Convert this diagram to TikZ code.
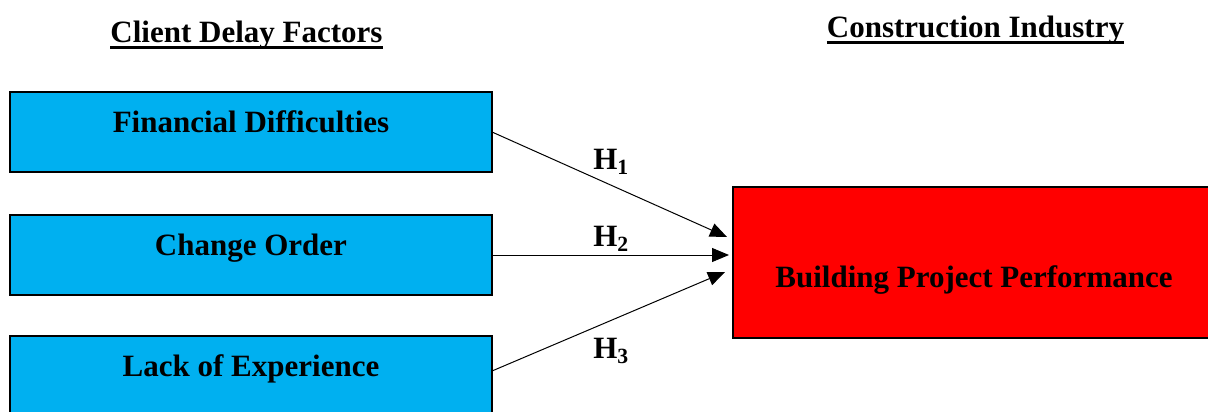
\documentclass[tikz,border=0pt]{standalone}
\usepackage{fontspec}
\setmainfont{Liberation Serif}
\usetikzlibrary{arrows.meta}
\definecolor{cblue}{HTML}{00B0F0}
\definecolor{cred}{HTML}{FF0000}
\begin{document}
\begin{tikzpicture}[x=1pt,y=-1pt,
  every node/.style={font=\fontsize{31}{37}\selectfont\bfseries, inner sep=0pt, outer sep=0pt},
  factor/.style={draw=black, line width=1.5pt, fill=cblue, minimum width=482pt,
    text height=40pt, text depth=40pt, anchor=north west},
  perfbox/.style={draw=black, line width=1.5pt, fill=cred, minimum width=482pt,
    text height=100pt, text depth=51pt, anchor=north west},
  hyp/.style={anchor=base},
  link/.style={line width=1pt, -{Triangle[length=17pt,width=14pt]}},
  uline/.style={line width=3pt}
]
\useasboundingbox (0,0) rectangle (1208,412);
\clip (0,0) rectangle (1208,412);

\node[anchor=base] (h1) at (246.5,43) {Client Delay Factors};
\node[anchor=base] (h2) at (975.5,38) {Construction Industry};
\draw[uline] ([yshift=-5pt]h1.base west) -- ([yshift=-5pt]h1.base east);
\draw[uline] ([yshift=-4.5pt]h2.base west) -- ([yshift=-4.5pt]h2.base east);

\node[factor] (fin) at (10,92) {Financial Difficulties};
\node[factor] (chg) at (10,215) {Change Order};
\node[factor] (lack) at (10,336) {Lack of Experience};
\node[perfbox] (perf) at (733,187) {Building Project Performance};

\coordinate (t1) at (727,237);
\coordinate (t2) at (729,255);
\coordinate (t3) at (725,272);
\draw[link] (fin.east) -- (t1);
\draw[link] (chg.east) -- (t2);
\draw[link] ([yshift=5pt]lack.east) -- (t3);

\node[hyp] (H1) at (611,169) {H\textsubscript{1}};
\node[hyp] (H2) at (611,246) {H\textsubscript{2}};
\node[hyp] (H3) at (611,358) {H\textsubscript{3}};
\end{tikzpicture}
\end{document}
